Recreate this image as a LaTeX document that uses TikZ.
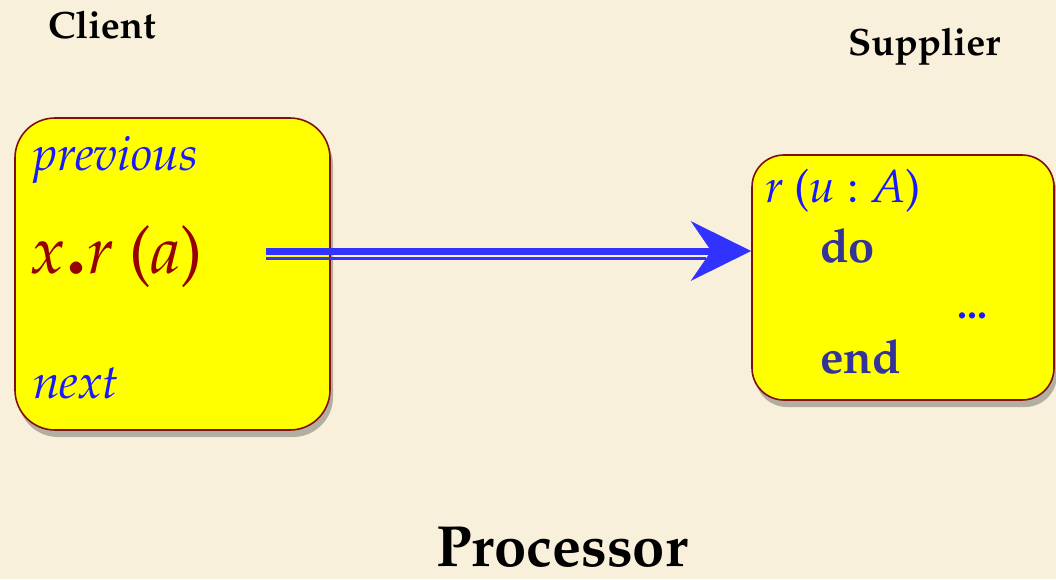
\documentclass[tikz,border=0pt]{standalone}
\usepackage[T1]{fontenc}
\usepackage{mathpazo}
\usetikzlibrary{arrows.meta,shadows}
\definecolor{bgc}{RGB}{249,240,220}
\definecolor{boxy}{RGB}{255,255,0}
\definecolor{boxb}{RGB}{128,16,16}
\definecolor{tblue}{RGB}{25,25,255}
\definecolor{tred}{RGB}{150,0,0}
\definecolor{tslate}{RGB}{51,51,153}
\definecolor{arrb}{RGB}{50,50,255}
\newcommand{\fs}[1]{\fontsize{#1}{#1}\selectfont}
\begin{document}
\begin{tikzpicture}[x=1pt,y=-1pt,
  routine/.style={draw=boxb, line width=1.6pt, fill=boxy, rounded corners=#1,
    drop shadow={shadow xshift=3pt, shadow yshift=-7pt, opacity=0.4, fill=black!70}},
  txt/.style={anchor=base west, inner sep=0pt},
  head/.style={txt, font=\bfseries\fs{38}, text=black}]
\fill[bgc] (0,0) rectangle (1056,579);
\useasboundingbox (0,0) rectangle (1056,579);

\node[routine=40pt, minimum width=315pt, minimum height=312pt] (client) at (172.5,274) {};
\node[routine=32pt, minimum width=302pt, minimum height=245pt] (supplier) at (903,277.5) {};

\node[head] (clab) at (48,38) {Client};
\node[head] (slab) at (848,55) {Supplier};
\node[anchor=base, inner sep=0pt, font=\bfseries\fs{58}] (proc) at (562,566) {Processor};

\node[txt, text=tblue, font=\itshape\fs{48}] (prev) at (33,170) {previous};
\node[txt, text=tred, font=\itshape\fs{66}] (call) at (31,273) {x\hspace{2pt}{\upshape\bfseries\fs{80}.}\hspace{1pt}r {\upshape(}a{\upshape)}};
\node[txt, text=tblue, font=\itshape\fs{48}] (next) at (33,398) {next};

\node[txt, text=tblue, font=\itshape\fs{46}] (sig) at (765,202) {r {\upshape(}u {\upshape:} A{\upshape)}};
\node[txt, text=tslate, font=\bfseries\fs{47}] (do) at (820,262) {do};
\node[txt, text=tblue, font=\bfseries\fs{40}] (dots) at (957,318) {...};
\node[txt, text=tslate, font=\bfseries\fs{47}] (end) at (820,373) {end};

\coordinate (astart) at (266,251);
\coordinate (bstart) at (266,258.5);
\draw[arrb, line width=2.6pt] (bstart) -- ++(440,0);
\draw[arrb, line width=7pt, -{Stealth[length=60pt, width=59pt, inset=20pt]}]
  (astart) -- (supplier.west |- astart);
\end{tikzpicture}
\end{document}
